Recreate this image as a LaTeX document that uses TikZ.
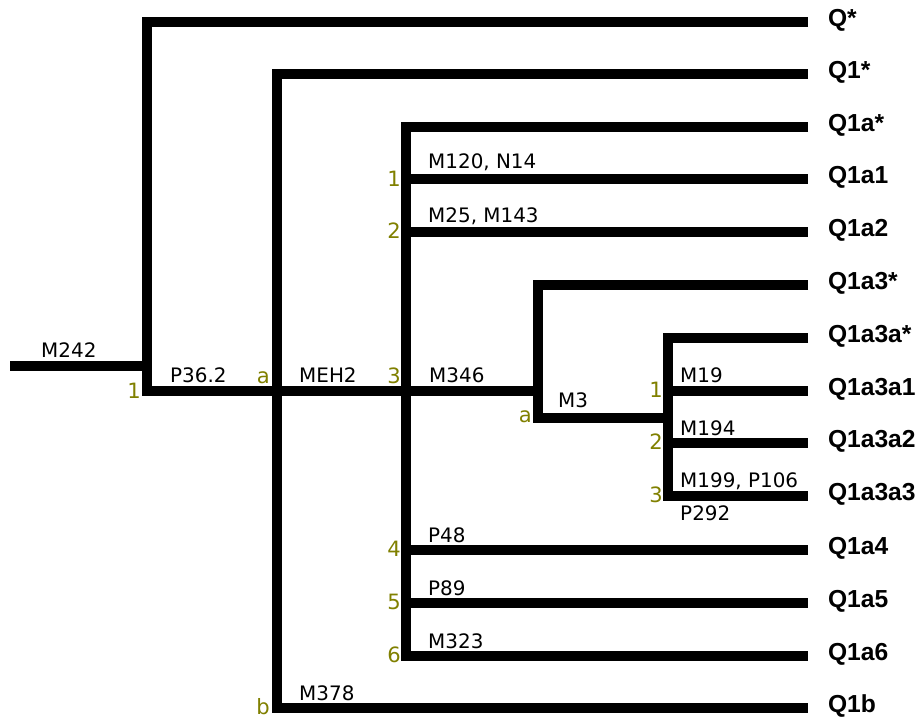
\documentclass[tikz,border=0pt]{standalone}
\usepackage{fontspec}
\setmainfont{DejaVu Sans}
\newfontfamily\leaffont{Liberation Sans}
\usepackage{xcolor}
\usetikzlibrary{positioning}
\definecolor{cnum}{RGB}{128,128,0}

\begin{document}
\begin{tikzpicture}[x=0.03cm, y=-0.03cm,
  br/.style={line width=8.1pt, line join=miter},
  lab/.style={anchor=base west, inner sep=0pt, font=\fontsize{17}{20}\selectfont},
  num/.style={anchor=base east, inner sep=0pt, text=cnum, font=\fontsize{18}{21}\selectfont},
  leaf/.style={anchor=west, inner xsep=0.6cm, inner ysep=0pt, outer sep=0pt,
               text height=10pt, text depth=1.5pt, font=\leaffont\bfseries\fontsize{21}{25}\selectfont}]
\useasboundingbox (0,0) rectangle (924,719);
\node[leaf] (qs)     at (808,22)  {Q*};
\node[leaf] (q1s)    at (808,74)  {Q1*};
\node[leaf] (q1as)   at (808,127) {Q1a*};
\node[leaf] (q1a1)   at (808,179) {Q1a1};
\node[leaf] (q1a2)   at (808,232) {Q1a2};
\node[leaf] (q1a3s)  at (808,285) {Q1a3*};
\node[leaf] (q1a3as) at (808,338) {Q1a3a*};
\node[leaf] (q1a3a1) at (808,391) {Q1a3a1};
\node[leaf] (q1a3a2) at (808,443) {Q1a3a2};
\node[leaf] (q1a3a3) at (808,496) {Q1a3a3};
\node[leaf] (q1a4)   at (808,550) {Q1a4};
\node[leaf] (q1a5)   at (808,603) {Q1a5};
\node[leaf] (q1a6)   at (808,656) {Q1a6};
\node[leaf] (q1b)    at (808,708) {Q1b};
\coordinate (m242) at (10,366);
\coordinate (v1) at (147,391);
\coordinate (vb) at (277,708);
\coordinate (v6) at (406,656);
\coordinate (vm) at (538,391);
\coordinate (va) at (538,418);
\coordinate (w3) at (668,496);
\draw[br] (m242) -- (m242 -| v1);
\draw[br] (qs) -| (v1) -- (vm);
\draw[br] (q1s) -| (vb) -- (q1b);
\draw[br] (q1as) -| (v6) -- (q1a6);
\draw[br] (q1a3s) -| (va) -- (va -| w3);
\draw[br] (q1a3as) -| (w3) -- (q1a3a3);
\foreach \l in {q1a1,q1a2,q1a4,q1a5}
  \draw[br] (v6 |- \l) -- (\l);
\foreach \l in {q1a3a1,q1a3a2}
  \draw[br] (w3 |- \l) -- (\l);
\node[lab] (l242)  at (41,357)  {M242};
\node[lab] (l36)   at (170,382) {P36.2};
\node[lab] (leh2)  at (299,382) {MEH2};
\node[lab] (l346)  at (429,382) {M346};
\node[lab] (l3)    at (558,407) {M3};
\node[lab] (l19)   at (680,382) {M19};
\node[lab] (l194)  at (680,435) {M194};
\node[lab] (l199)  at (680,487) {M199, P106};
\node[lab] (l292)  at (680,520) {P292};
\node[lab] (l120)  at (428,168) {M120, N14};
\node[lab] (l25)   at (428,222) {M25, M143};
\node[lab] (l48)   at (428,542) {P48};
\node[lab] (l89)   at (428,595) {P89};
\node[lab] (l323)  at (428,648) {M323};
\node[lab] (l378)  at (299,700) {M378};
\node[num] (n1)  at (141,398) {1};
\node[num] (na)  at (270,383) {a};
\node[num] (nb)  at (270,714) {b};
\node[num] (n3)  at (401,383) {3};
\node[num] (n31) at (401,186) {1};
\node[num] (n32) at (401,238) {2};
\node[num] (n34) at (401,556) {4};
\node[num] (n35) at (401,609) {5};
\node[num] (n36) at (401,662) {6};
\node[num] (nma) at (532,422) {a};
\node[num] (nw1) at (663,397) {1};
\node[num] (nw2) at (663,449) {2};
\node[num] (nw3) at (663,502) {3};
\end{tikzpicture}
\end{document}
